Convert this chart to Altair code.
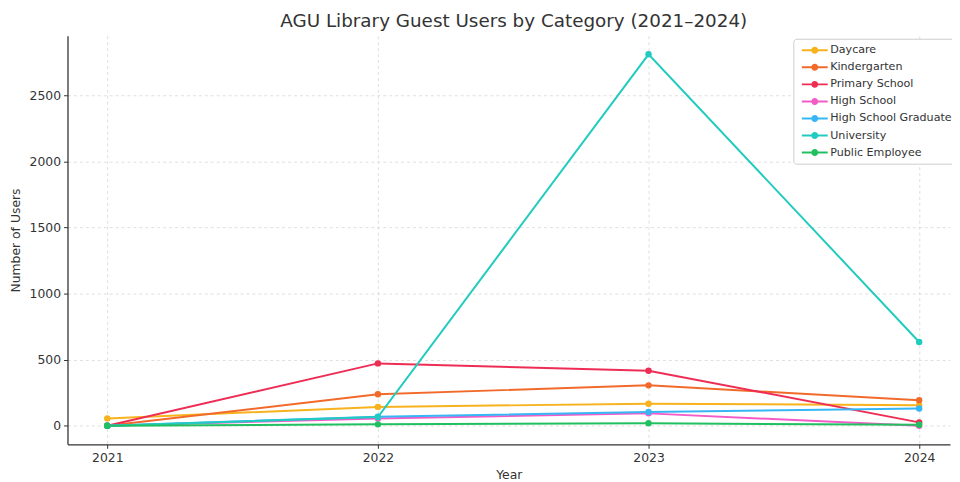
import altair as alt
import pandas as pd

years = [2021, 2022, 2023, 2024]
categories = ["Daycare", "Kindergarten", "Primary School", "High School",
              "High School Graduate", "University", "Public Employee"]
daycare = [56, 143, 167, 156]
kindergarten = [0, 239, 306, 194]
primary_school = [0, 472, 417, 26]
high_school = [0, 56, 94, 0]
hs_graduate = [0, 69, 104, 131]
university = [0, 66, 2810, 634]
public_employee = [0, 11, 19, 8]
colors = ["#f7b21e", "#f26a2a", "#ee2d55", "#f25cc9", "#36b6f5", "#22cbbf", "#20c060"]

series = [daycare, kindergarten, primary_school, high_school,
          hs_graduate, university, public_employee]
rows = []
for i, (cat, vals) in enumerate(zip(categories, series)):
    for y, v in zip(years, vals):
        rows.append({"Year": y, "Users": v, "Category": cat, "order": i})
df = pd.DataFrame(rows)

font = "DejaVu Sans"
# legend glyph: a short line with a dot in the middle (filled shapes)
legend_symbol = ("M-2.9,-0.22L-0.7,-0.22L-0.7,0.22L-2.9,0.22Z"
                 "M0.7,-0.22L2.9,-0.22L2.9,0.22L0.7,0.22Z"
                 "M0.78,0A0.78,0.78 0 1,1 -0.78,0A0.78,0.78 0 1,1 0.78,0Z")

color = alt.Color(
    "Category:N",
    scale=alt.Scale(domain=categories, range=colors),
    sort=categories,
    legend=alt.Legend(
        title=None, orient="none", legendX=732, legendY=3,
        symbolType=legend_symbol, symbolSize=81, symbolStrokeWidth=0,
        labelFontSize=11.2, labelFont=font, labelColor="#333333",
        rowPadding=5.2, symbolOffset=10, labelOffset=10,
        fillColor="white", strokeColor="#cccccc", cornerRadius=3,
        padding=6, labelLimit=200,
    ),
)

x = alt.X(
    "Year:Q",
    scale=alt.Scale(domain=[2020.853, 2024.114], nice=False, zero=False),
    axis=alt.Axis(values=years, format="d", title="Year", tickCount=4),
)
y = alt.Y(
    "Users:Q",
    scale=alt.Scale(domain=[-140, 2950], nice=False, zero=False),
    axis=alt.Axis(values=[0, 500, 1000, 1500, 2000, 2500], format="d",
                  title="Number of Users"),
)

chart = alt.Chart(df).mark_line(
    point=alt.OverlayMarkDef(filled=True, size=42), strokeWidth=2
).encode(
    x=x, y=y, color=color, order=alt.Order("order:Q"),
    detail="Category:N",
).properties(
    width=890, height=412,
    title=alt.Title("AGU Library Guest Users by Category (2021–2024)",
                    font=font, fontSize=18.5, fontWeight="normal", color="#333333",
                    anchor="middle", offset=5, dx=5),
    autosize=alt.AutoSizeParams(type="none"),
    padding={"left": 60, "top": 26, "right": 2, "bottom": 36},
).configure_view(
    stroke=None
).configure_axis(
    labelFont=font, labelFontSize=12.5, labelColor="#333333",
    titleFont=font, titleFontSize=12.5, titleColor="#333333", titleFontWeight="normal",
    domainColor="#333333", domainWidth=1.3, tickColor="#333333", tickSize=4,
    gridColor="#d6d6d6", gridDash=[3, 3], gridWidth=0.8, labelPadding=3,
).configure_axisY(
    titlePadding=7, domain=True,
).configure_axisX(
    titlePadding=5,
)

chart.save("out.html", embed_options={"renderer": "svg", "actions": False})
